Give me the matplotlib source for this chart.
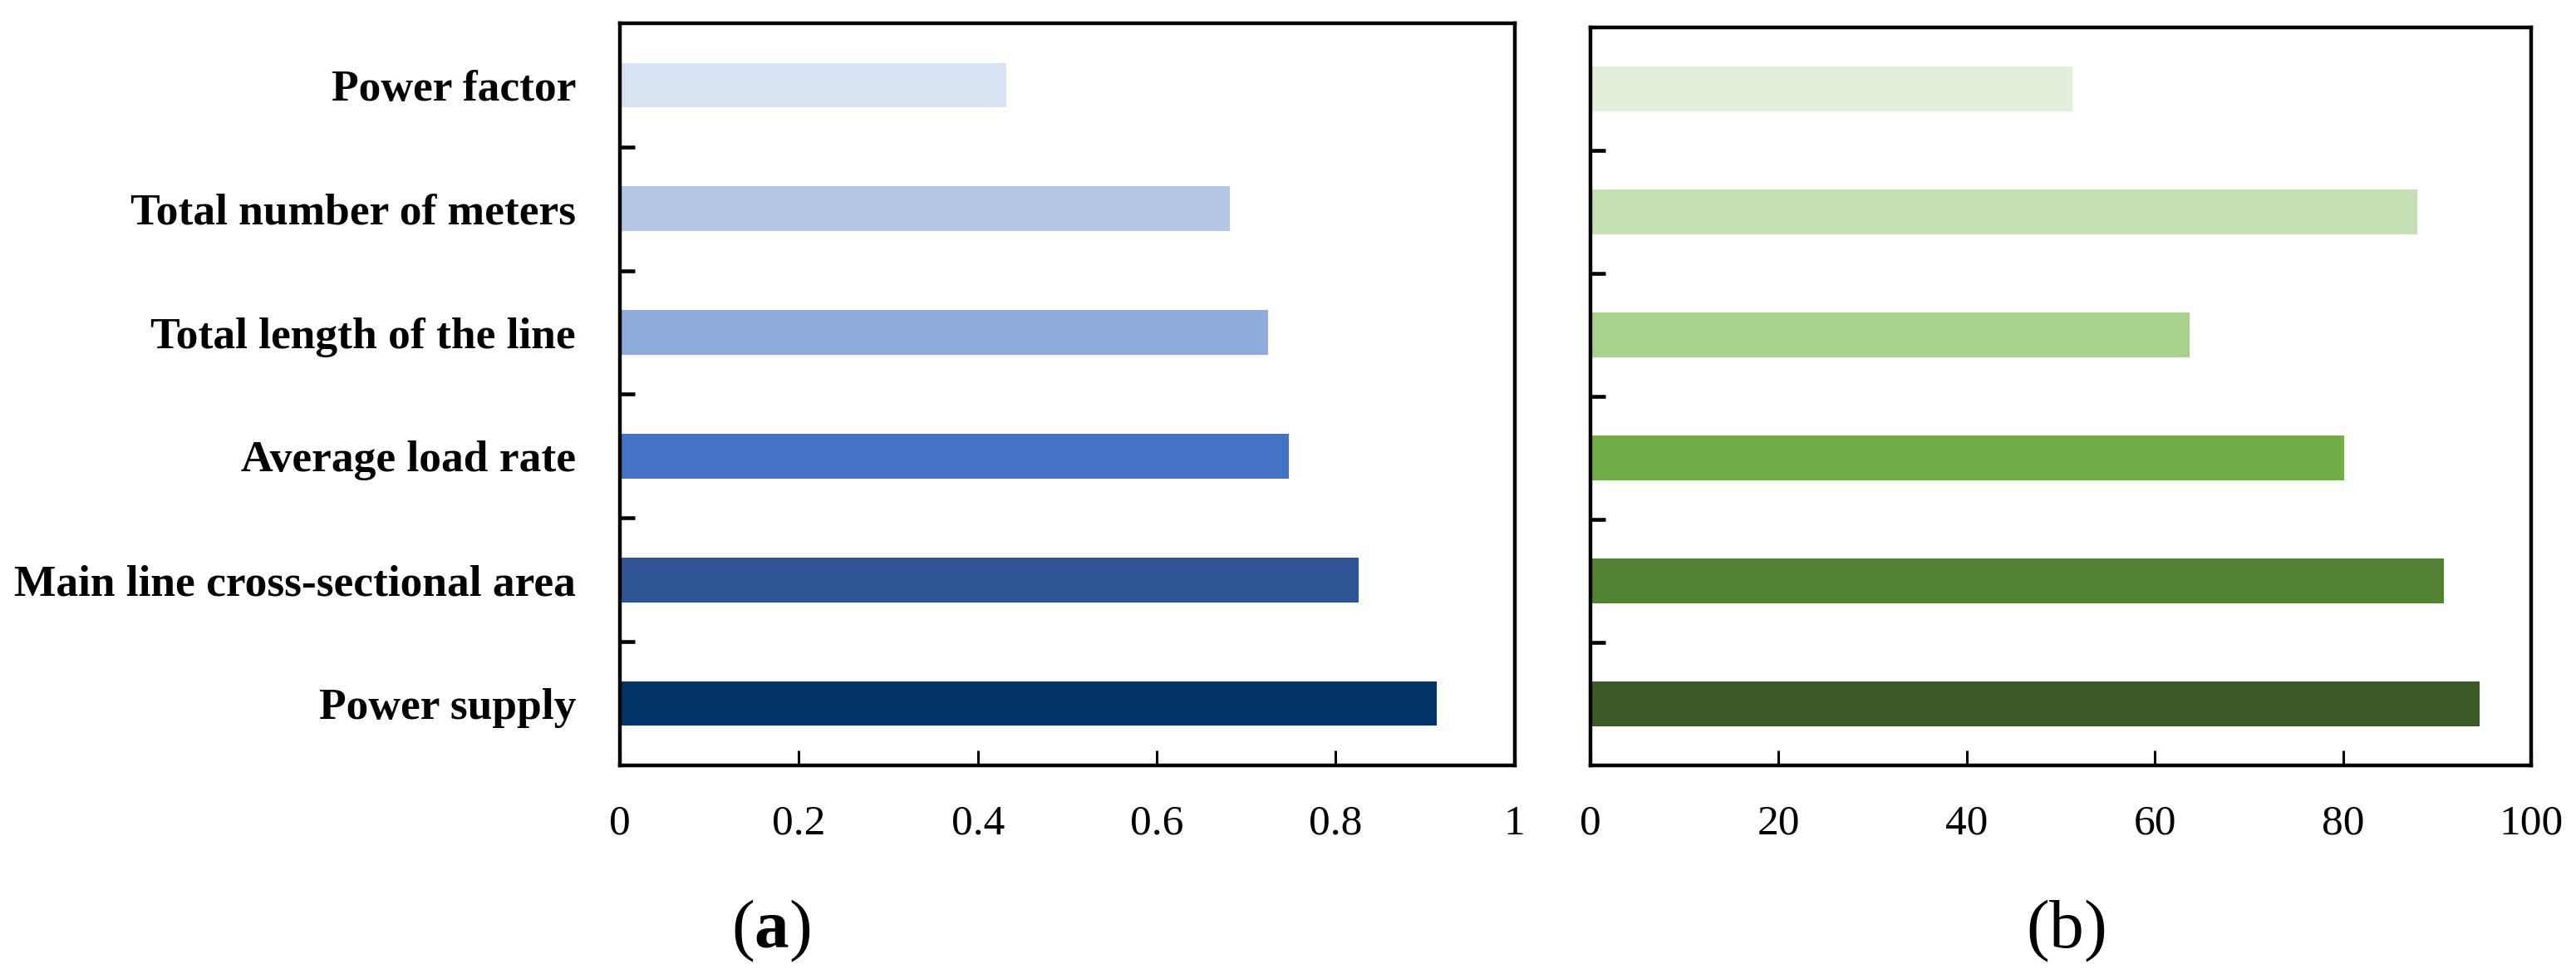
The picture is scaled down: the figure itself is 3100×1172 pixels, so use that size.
import matplotlib
matplotlib.use("Agg")
import matplotlib.pyplot as plt
import numpy as np

categories = ["Power supply", "Main line cross-sectional area", "Average load rate",
              "Total length of the line", "Total number of meters", "Power factor"]
values_a = [0.913, 0.826, 0.748, 0.724, 0.682, 0.432]
values_b = [94.5, 90.7, 80.1, 63.7, 87.9, 51.2]
colors_a = ["#003366", "#2F5597", "#4472C4", "#8FAADC", "#B4C7E7", "#DAE3F3"]
colors_b = ["#3B5A26", "#548235", "#70AD47", "#A9D18E", "#C5E0B4", "#E2EFDA"]
xticks_a = [0, 0.2, 0.4, 0.6, 0.8, 1]
xticklabels_a = ["0", "0.2", "0.4", "0.6", "0.8", "1"]
xticks_b = [0, 20, 40, 60, 80, 100]
xticklabels_b = ["0", "20", "40", "60", "80", "100"]

plt.rcParams['font.family'] = ['Liberation Serif', 'DejaVu Serif']
plt.rcParams['mathtext.fontset'] = 'custom'
plt.rcParams['mathtext.rm'] = 'Liberation Serif'
plt.rcParams['mathtext.bf'] = 'Liberation Serif:bold'

fig = plt.figure(figsize=(31, 11.72), dpi=100)
ax_a = fig.add_axes([0.2406, 0.2142, 0.3474, 0.7619])
ax_b = fig.add_axes([0.6174, 0.2142, 0.3652, 0.7577])

lw = 3.2
def style(ax, vals, cols, xt, xtl, xmax, show_labels):
    y = np.arange(len(categories))
    ax.barh(y, vals, height=0.36, color=cols)
    ax.set_xlim(0, xmax)
    ax.set_ylim(-0.5, len(categories) - 0.5)
    for s in ax.spines.values():
        s.set_linewidth(lw)
        s.set_color("black")
    ax.set_xticks(xt)
    ax.set_xticklabels(xtl, fontsize=37)
    ax.tick_params(axis='x', direction='in', length=13, width=2.2, pad=34)
    ax.set_yticks(y)
    if show_labels:
        ax.set_yticklabels(categories, fontsize=38.5, fontweight='bold')
    else:
        ax.set_yticklabels([])
    ax.tick_params(axis='y', which='major', length=0, pad=38)
    ax.set_yticks(np.arange(len(categories) - 1) + 0.5, minor=True)
    ax.tick_params(axis='y', which='minor', direction='in', length=13, width=3.3)

style(ax_a, values_a, colors_a, xticks_a, xticklabels_a, 1, True)
style(ax_b, values_b, colors_b, xticks_b, xticklabels_b, 100, False)

fig.text(928 / 3100, 1 - 1120 / 1172, r"$(\mathbf{a})$", fontsize=60, ha='center', va='center')
fig.text(2486 / 3100, 1 - 1120 / 1172, r"$(\mathrm{b})$", fontsize=60, ha='center', va='center')

fig.savefig("out.png", dpi=100)
